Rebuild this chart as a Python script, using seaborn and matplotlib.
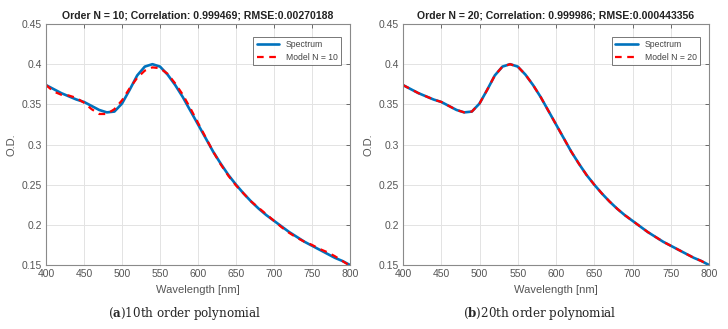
import numpy as np
import pandas as pd
import matplotlib
matplotlib.use("Agg")
import matplotlib.pyplot as plt
import seaborn as sns

# Wavelength grid [nm] and optical density values
wavelength = [400, 410, 420, 430, 440, 450, 460, 470, 480, 490,
              500, 510, 520, 530, 540, 550, 560, 570, 580, 590,
              600, 610, 620, 630, 640, 650, 660, 670, 680, 690,
              700, 710, 720, 730, 740, 750, 760, 770, 780, 790, 800]

spectrum = [0.374, 0.369, 0.364, 0.360, 0.356, 0.353, 0.348, 0.343, 0.340, 0.341,
            0.351, 0.368, 0.386, 0.397, 0.400, 0.397, 0.387, 0.374, 0.359, 0.342,
            0.325, 0.308, 0.291, 0.276, 0.262, 0.250, 0.239, 0.229, 0.220, 0.212,
            0.205, 0.198, 0.191, 0.185, 0.179, 0.174, 0.169, 0.164, 0.159, 0.155, 0.150]

model_n10 = [0.374, 0.366, 0.362, 0.361, 0.358, 0.352, 0.344, 0.338, 0.338, 0.344,
             0.355, 0.370, 0.383, 0.392, 0.396, 0.395, 0.388, 0.376, 0.362, 0.345,
             0.327, 0.309, 0.291, 0.275, 0.261, 0.249, 0.239, 0.229, 0.221, 0.213,
             0.205, 0.197, 0.190, 0.184, 0.179, 0.175, 0.170, 0.166, 0.161, 0.155, 0.149]

model_n20 = [0.374, 0.369, 0.364, 0.360, 0.356, 0.353, 0.348, 0.343, 0.340, 0.341,
             0.351, 0.368, 0.386, 0.397, 0.400, 0.397, 0.387, 0.374, 0.359, 0.342,
             0.325, 0.308, 0.291, 0.276, 0.262, 0.250, 0.239, 0.229, 0.220, 0.212,
             0.205, 0.198, 0.191, 0.185, 0.179, 0.174, 0.169, 0.164, 0.159, 0.155, 0.150]

panels = [
    ("Order N = 10; Correlation: 0.999469; RMSE:0.00270188", "Model N = 10", model_n10, "a", "10th order polynomial"),
    ("Order N = 20; Correlation: 0.999986; RMSE:0.000443356", "Model N = 20", model_n20, "b", "20th order polynomial"),
]

sns.set_style("whitegrid")
plt.rcParams['font.family'] = ['Liberation Sans', 'DejaVu Sans']
plt.rcParams['mathtext.fontset'] = 'dejavuserif'

fig = plt.figure(figsize=(7.28, 3.29), dpi=100)
fig.patch.set_facecolor("white")
axes_pos = [[0.0632, 0.1945, 0.4176, 0.7325], [0.5536, 0.1945, 0.4203, 0.7325]]
caption_x = [0.253, 0.742]

for i, (title, model_label, model, letter, caption) in enumerate(panels):
    ax = fig.add_axes(axes_pos[i])
    df = pd.DataFrame({"wl": wavelength, "Spectrum": spectrum, model_label: model})
    sns.lineplot(data=df, x="wl", y="Spectrum", ax=ax, color="#0072BD", lw=1.9, label="Spectrum")
    sns.lineplot(data=df, x="wl", y=model_label, ax=ax, color="#FF0000", lw=1.6,
                 linestyle=(0, (3, 2.5)), label=model_label)
    ax.set_xlim(400, 800)
    ax.set_ylim(0.15, 0.45)
    ax.set_xticks(np.arange(400, 801, 50))
    ax.set_yticks([0.15, 0.2, 0.25, 0.3, 0.35, 0.4, 0.45])
    ax.set_yticklabels(["0.15", "0.2", "0.25", "0.3", "0.35", "0.4", "0.45"])
    ax.grid(True, color="#e3e3e3", lw=0.7)
    for s in ax.spines.values():
        s.set_color("#8a8a8a")
        s.set_linewidth(0.8)
    ax.tick_params(axis="both", labelsize=7.5, colors="#555555", direction="in",
                   length=3, width=0.6, top=True, right=True, pad=3)
    ax.set_xlabel("Wavelength [nm]", fontsize=8, color="#555555", labelpad=4)
    ax.set_ylabel("O.D.", fontsize=8, color="#555555", labelpad=4)
    ax.set_title(title, fontsize=7.6, fontweight="bold", color="#222222", pad=4)
    leg = ax.legend(loc="upper right", fontsize=6.2, frameon=True, fancybox=False,
                    handlelength=2.6, borderpad=0.4, labelspacing=0.4,
                    bbox_to_anchor=(0.985, 0.965))
    leg.get_frame().set_edgecolor("#555555")
    leg.get_frame().set_linewidth(0.7)
    for t in leg.get_texts():
        t.set_color("#444444")
    fig.text(caption_x[i], 0.048, f"$(\\mathbf{{{letter}}})$" + caption,
             ha="center", va="center", fontsize=8.6, family="DejaVu Serif")

fig.savefig("out.png", dpi=100)
